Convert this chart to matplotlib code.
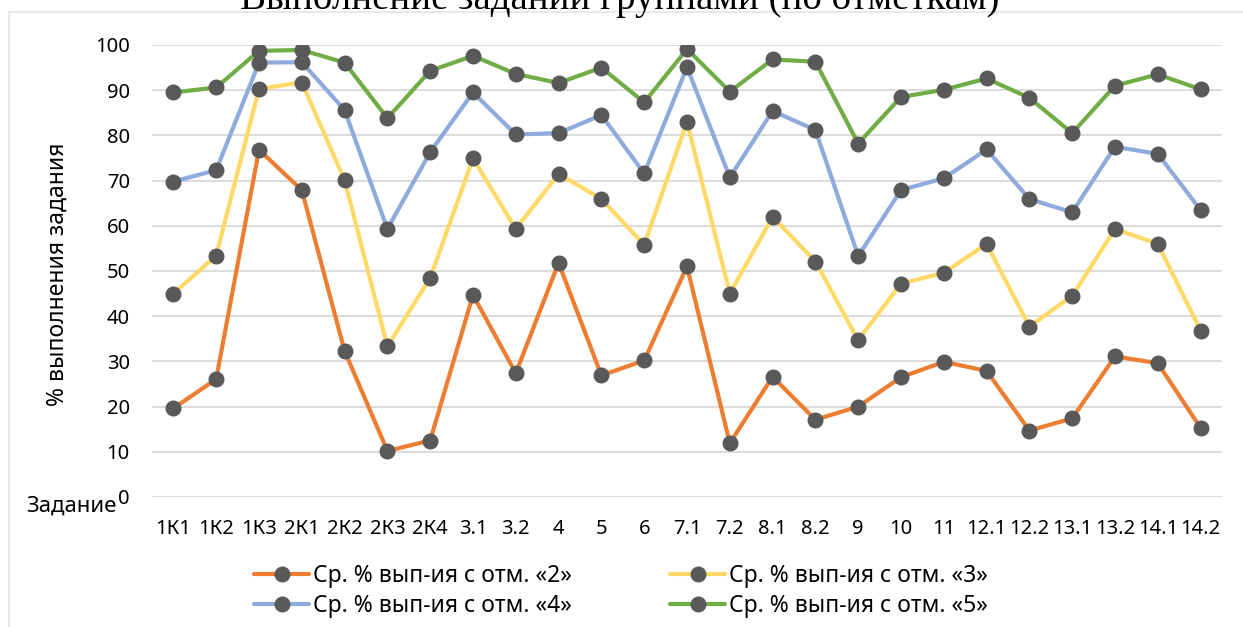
import numpy as np
import matplotlib
matplotlib.use('Agg')
import matplotlib.pyplot as plt
from matplotlib.lines import Line2D

tasks = ['1К1', '1К2', '1К3', '2К1', '2К2', '2К3', '2К4', '3.1', '3.2', '4', '5', '6',
         '7.1', '7.2', '8.1', '8.2', '9', '10', '11', '12.1', '12.2', '13.1', '13.2',
         '14.1', '14.2']

grade2 = [19.6, 26.1, 76.8, 67.9, 32.3, 10.2, 12.5, 44.7, 27.4, 51.8, 26.9, 30.2,
          51.0, 11.9, 26.6, 17.1, 20.0, 26.5, 29.9, 27.9, 14.7, 17.4, 31.1, 29.6, 15.3]
grade3 = [45.0, 53.4, 90.3, 91.7, 70.1, 33.3, 48.5, 74.9, 59.3, 71.5, 65.9, 55.8,
          83.0, 45.0, 62.0, 52.1, 34.7, 47.2, 49.6, 56.0, 37.7, 44.5, 59.3, 56.0, 36.8]
grade4 = [69.8, 72.3, 96.1, 96.2, 85.6, 59.3, 76.3, 89.5, 80.2, 80.5, 84.5, 71.6,
          95.1, 70.7, 85.4, 81.2, 53.3, 67.9, 70.5, 76.9, 65.9, 63.0, 77.5, 75.9, 63.5]
grade5 = [89.5, 90.6, 98.7, 98.9, 96.1, 83.8, 94.3, 97.6, 93.6, 91.6, 95.0, 87.3,
          99.1, 89.7, 96.8, 96.3, 78.2, 88.5, 90.1, 92.6, 88.3, 80.5, 91.0, 93.5, 90.2]

labels = ['Ср. % вып-ия с отм. «2»', 'Ср. % вып-ия с отм. «3»',
          'Ср. % вып-ия с отм. «4»', 'Ср. % вып-ия с отм. «5»']
colors = ['#ED7D31', '#FFD966', '#8FAADC', '#70AD47']

plt.rcParams['font.family'] = ['Noto Sans', 'DejaVu Sans']

W, H = 1243, 627
fig = plt.figure(figsize=(W / 100, H / 100), dpi=100)
ax = fig.add_axes([152 / W, 1 - 497 / H, 1070 / W, 452 / H])

x = np.arange(len(tasks))
handles = []
for vals, c, lab in zip([grade2, grade3, grade4, grade5], colors, labels):
    h, = ax.plot(x, vals, '-o', color=c, lw=3, marker='o', markersize=10.5,
                 markerfacecolor='#595959', markeredgecolor='#595959', label=lab,
                 solid_capstyle='round')
    handles.append(h)

ax.set_xlim(-0.5, len(tasks) - 0.5)
ax.set_ylim(0, 100)
ax.set_yticks(np.arange(0, 101, 10))
ax.set_xticks(x)
ax.set_xticklabels(tasks)
ax.tick_params(axis='both', length=0, labelsize=14.5, labelcolor='black')
ax.tick_params(axis='x', pad=16)
ax.tick_params(axis='y', pad=16)
ax.grid(axis='y', color='#D9D9D9', lw=1.3)
ax.set_axisbelow(True)
for s in ax.spines.values():
    s.set_visible(False)

# chart border (Excel-like)
fig.add_artist(Line2D([8.5 / W, 1.0], [1 - 12 / H, 1 - 12 / H], color='#E8E8E8', lw=1.5,
                      transform=fig.transFigure))
fig.add_artist(Line2D([8.5 / W, 8.5 / W], [0, 1 - 12 / H], color='#E8E8E8', lw=1.5,
                      transform=fig.transFigure))

fig.text(620 / W, 1 - 9 / H, 'Выполнение заданий группами (по отметкам)',
         family='Liberation Serif', fontsize=28, ha='center', va='baseline')
fig.text(58 / W, 1 - 274 / H, '% выполнения задания', rotation=90, fontsize=16.5,
         ha='center', va='center')
fig.text(26 / W, 1 - 512 / H, 'Задание', fontsize=16, ha='left', va='baseline')

# legend is filled column-wise: order so rows read «2» «3» / «4» «5»
fig.legend(handles=[handles[0], handles[2], handles[1], handles[3]],
           labels=[labels[0], labels[2], labels[1], labels[3]],
           loc='center', bbox_to_anchor=(621 / W, 1 - 591 / H), ncol=2, frameon=False,
           fontsize=16.5, handlelength=2.4, handletextpad=0.15, columnspacing=4.3,
           labelspacing=0.3)

fig.savefig('out.png', dpi=100)
